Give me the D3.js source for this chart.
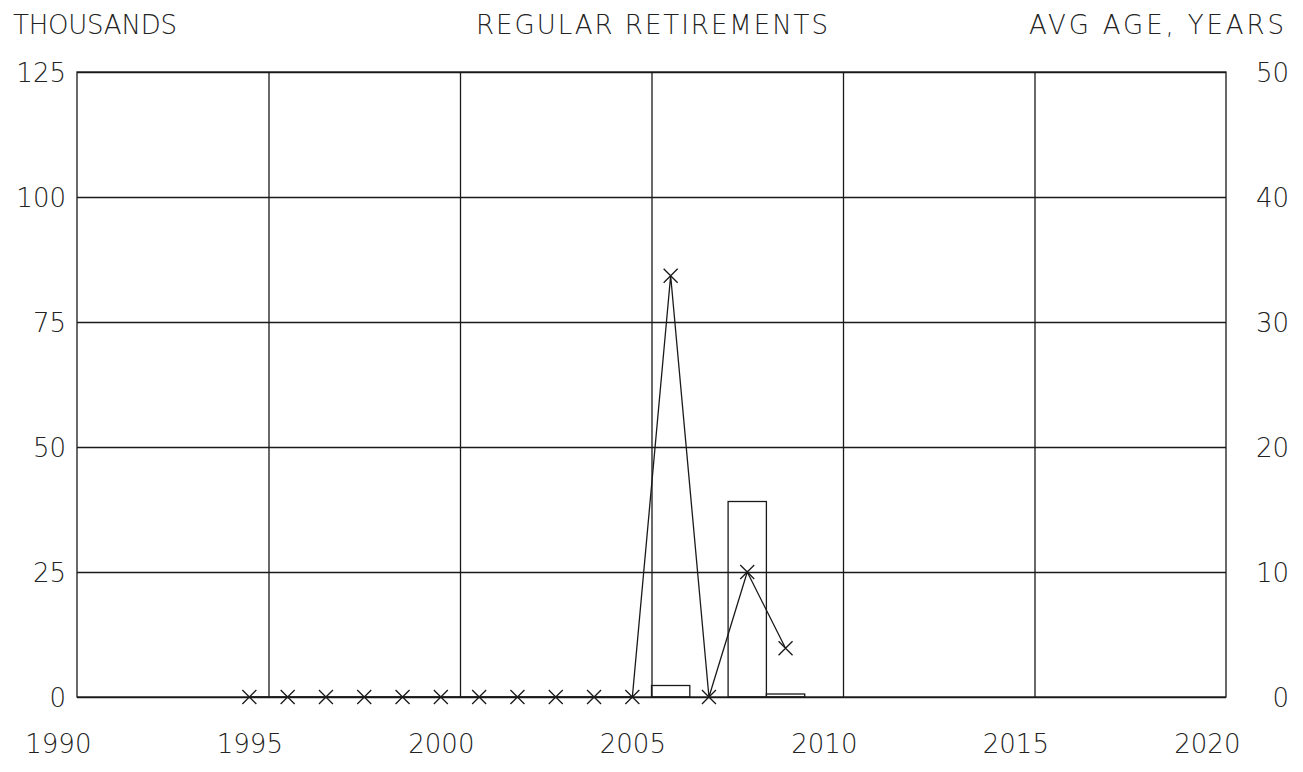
<!DOCTYPE html>
<html>
<head>
<meta charset="utf-8">
<script src="https://cdn.jsdelivr.net/npm/d3@7"></script>
<style>
    body { margin: 0; background: #fff; }
    text { font-family: "DejaVu Sans", sans-serif; font-weight: 200; fill: #222; }
</style>
</head>
<body>
<div id="chart"></div>
<script>
const years = [1995, 1996, 1997, 1998, 1999, 2000, 2001, 2002, 2003, 2004, 2005, 2006, 2007, 2008, 2009];
const retirements = [0, 0, 0, 0, 0, 0, 0, 0, 0, 0, 0, 2.3, 0, 39.1, 0.6];
const avgAge = [0, 0, 0, 0, 0, 0, 0, 0, 0, 0, 0, 33.7, 0, 10, 3.9];
const yearLabels = [1990, 1995, 2000, 2005, 2010, 2015, 2020];
const leftTicks = [0, 25, 50, 75, 100, 125];
const rightTicks = [0, 10, 20, 30, 40, 50];

const width = 1303;
const height = 772;
const margin = { top: 72, right: 77, bottom: 75, left: 77 };
const innerW = width - margin.left - margin.right;
const innerH = height - margin.top - margin.bottom;

const svg = d3.select("#chart")
    .append("svg")
    .attr("width", width)
    .attr("height", height);

const g = svg.append("g")
    .attr("transform", `translate(${margin.left}, ${margin.top})`);

// years sit in the middle of their interval, grid lines on the boundaries
const x = d3.scaleLinear().domain([1990.5, 2020.5]).range([0, innerW]);
const y = d3.scaleLinear().domain([0, 125]).range([innerH, 0]);
const yAge = d3.scaleLinear().domain([0, 50]).range([innerH, 0]);

const lineColor = "#1a1a1a";

// horizontal grid + left labels
const leftAxis = g.append("g")
    .call(d3.axisLeft(y).tickValues(leftTicks).tickSize(-innerW).tickPadding(11));
leftAxis.select(".domain").remove();
leftAxis.selectAll("line").attr("stroke", lineColor).attr("stroke-width", 1.3);
leftAxis.selectAll("text").attr("font-size", 26).attr("dy", "0.36em");

// vertical grid lines
const gridX = g.append("g")
    .attr("transform", `translate(0, ${innerH})`)
    .call(d3.axisBottom(x).tickValues([1995.5, 2000.5, 2005.5, 2010.5, 2015.5]).tickSize(-innerH).tickFormat(""));
gridX.select(".domain").remove();
gridX.selectAll("line").attr("stroke", lineColor).attr("stroke-width", 1.3);

// bottom labels
const bottomAxis = g.append("g")
    .attr("transform", `translate(0, ${innerH})`)
    .call(d3.axisBottom(x).tickValues(yearLabels).tickSize(0).tickPadding(38).tickFormat(d3.format("d")));
bottomAxis.select(".domain").remove();
bottomAxis.selectAll("text").attr("font-size", 26);

// right labels
const rightAxis = g.append("g")
    .attr("transform", `translate(${innerW}, 0)`)
    .call(d3.axisRight(yAge).tickValues(rightTicks).tickSize(0).tickPadding(0));
rightAxis.select(".domain").remove();
rightAxis.selectAll("text")
    .attr("font-size", 26)
    .attr("text-anchor", "end")
    .attr("x", 63)
    .attr("dy", "0.36em");

// frame
g.append("rect")
    .attr("width", innerW)
    .attr("height", innerH)
    .attr("fill", "none")
    .attr("stroke", lineColor)
    .attr("stroke-width", 1.3);

// bars
g.selectAll(".bar")
    .data(years)
    .join("rect")
    .attr("class", "bar")
    .attr("x", d => x(d - 0.5))
    .attr("width", d => x(d + 0.5) - x(d - 0.5))
    .attr("y", (d, i) => y(retirements[i]))
    .attr("height", (d, i) => innerH - y(retirements[i]))
    .attr("fill", "none")
    .attr("stroke", lineColor)
    .attr("stroke-width", 1.3);

// avg age line
const line = d3.line()
    .x((d, i) => x(years[i]))
    .y(d => yAge(d));

g.append("path")
    .datum(avgAge)
    .attr("d", line)
    .attr("fill", "none")
    .attr("stroke", lineColor)
    .attr("stroke-width", 1.3);

const m = 7;
g.selectAll(".mark")
    .data(avgAge)
    .join("path")
    .attr("class", "mark")
    .attr("d", (d, i) => {
        const cx = x(years[i]), cy = yAge(d);
        return `M${cx - m},${cy - m}L${cx + m},${cy + m}M${cx - m},${cy + m}L${cx + m},${cy - m}`;
    })
    .attr("stroke", lineColor)
    .attr("stroke-width", 1.3);

// titles (plotter font is monospaced, so stretch spacing to match)
svg.append("text")
    .attr("x", 13).attr("y", 34)
    .attr("font-size", 26)
    .attr("textLength", 164)
    .attr("lengthAdjust", "spacing")
    .text("THOUSANDS");

svg.append("text")
    .attr("x", 476).attr("y", 34)
    .attr("font-size", 26)
    .attr("textLength", 352)
    .attr("lengthAdjust", "spacing")
    .text("REGULAR RETIREMENTS");

svg.append("text")
    .attr("x", 1029).attr("y", 34)
    .attr("font-size", 26)
    .attr("textLength", 255)
    .attr("lengthAdjust", "spacing")
    .text("AVG AGE, YEARS");
</script>
</body>
</html>
